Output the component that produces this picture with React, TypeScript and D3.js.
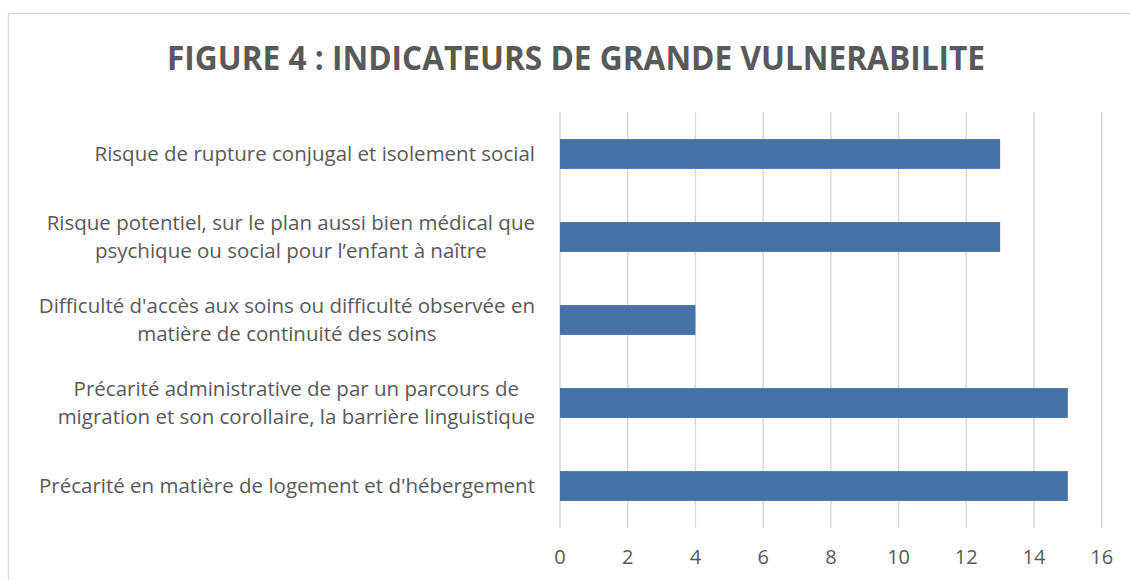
import React, { useEffect, useRef } from "react";
import * as d3 from "d3";

const title = "FIGURE 4 : INDICATEURS DE GRANDE VULNERABILITE";
const categories: string[][] = [
  ["Risque de rupture conjugal et isolement social"],
  ["Risque potentiel, sur le plan aussi bien médical que", "psychique ou social pour l\u2019enfant à naître"],
  ["Difficulté d'accès aux soins ou difficulté observée en", "matière de continuité des soins"],
  ["Précarité administrative de par un parcours de", "migration et son corollaire, la barrière linguistique"],
  ["Précarité en matière de logement et d'hébergement"],
];
const values = [13, 13, 4, 15, 15];
const xTicks = [0, 2, 4, 6, 8, 10, 12, 14, 16];

const W = 1130;
const H = 580;
const FONT = "'Open Sans', sans-serif";
const TEXT = "#595959";

export default function App() {
  const ref = useRef<SVGSVGElement | null>(null);

  useEffect(() => {
    const svg = d3.select(ref.current);
    svg.selectAll("*").remove();

    const x = d3.scaleLinear().domain([0, 16]).range([560, 1101.7]);
    const ids = categories.map((_, i) => String(i));
    const y = d3.scaleBand().domain(ids).range([112.5, 527.5]).paddingInner(0.64).paddingOuter(0.32);

    // border
    svg.append("rect").attr("x", 8.5).attr("y", 13.5).attr("width", 1200).attr("height", 700)
      .attr("fill", "#fff").attr("stroke", "#d9d9d9").attr("stroke-width", 1.5);

    // title
    svg.append("text").attr("x", 576).attr("y", 70).attr("text-anchor", "middle")
      .attr("font-family", FONT).attr("font-weight", 700).attr("font-size", 34)
      .attr("fill", TEXT).attr("textLength", 818).attr("lengthAdjust", "spacingAndGlyphs").text(title);

    // gridlines
    svg.append("g").selectAll("line").data(xTicks).join("line")
      .attr("x1", (d) => x(d)).attr("x2", (d) => x(d)).attr("y1", 112).attr("y2", 528)
      .attr("stroke", "#d9d9d9").attr("stroke-width", 1.5);

    // bars
    svg.append("g").selectAll("rect").data(values).join("rect")
      .attr("x", x(0)).attr("y", (_, i) => y(String(i))!)
      .attr("width", (d) => x(d) - x(0)).attr("height", y.bandwidth())
      .attr("fill", "#4573a7");

    // tick labels
    svg.append("g").selectAll("text").data(xTicks).join("text")
      .attr("x", (d) => x(d)).attr("y", 564).attr("text-anchor", "middle")
      .attr("font-family", FONT).attr("font-size", 20).attr("fill", TEXT).text((d) => String(d));

    // category labels
    const right = 535;
    const lh = 28;
    categories.forEach((lines, i) => {
      const cy = y(String(i))! + y.bandwidth() / 2;
      const g = svg.append("g");
      const texts = lines.map((ln, j) =>
        g.append("text").attr("font-family", FONT).attr("font-size", 20.5).attr("fill", TEXT)
          .attr("text-anchor", "middle")
          .attr("y", cy + (j - (lines.length - 1) / 2) * lh + 7).text(ln)
      );
      const maxW = d3.max(texts, (t) => (t.node() as SVGTextElement).getComputedTextLength()) || 0;
      const scale = Math.min(1, 510 / maxW);
      const bw = maxW * scale;
      texts.forEach((t) => t.attr("x", right - bw / 2));
    });
  }, []);

  return (
    <svg ref={ref} width={W} height={H} style={{ position: "absolute", left: 0, top: 0, background: "#fff" }} />
  );
}
